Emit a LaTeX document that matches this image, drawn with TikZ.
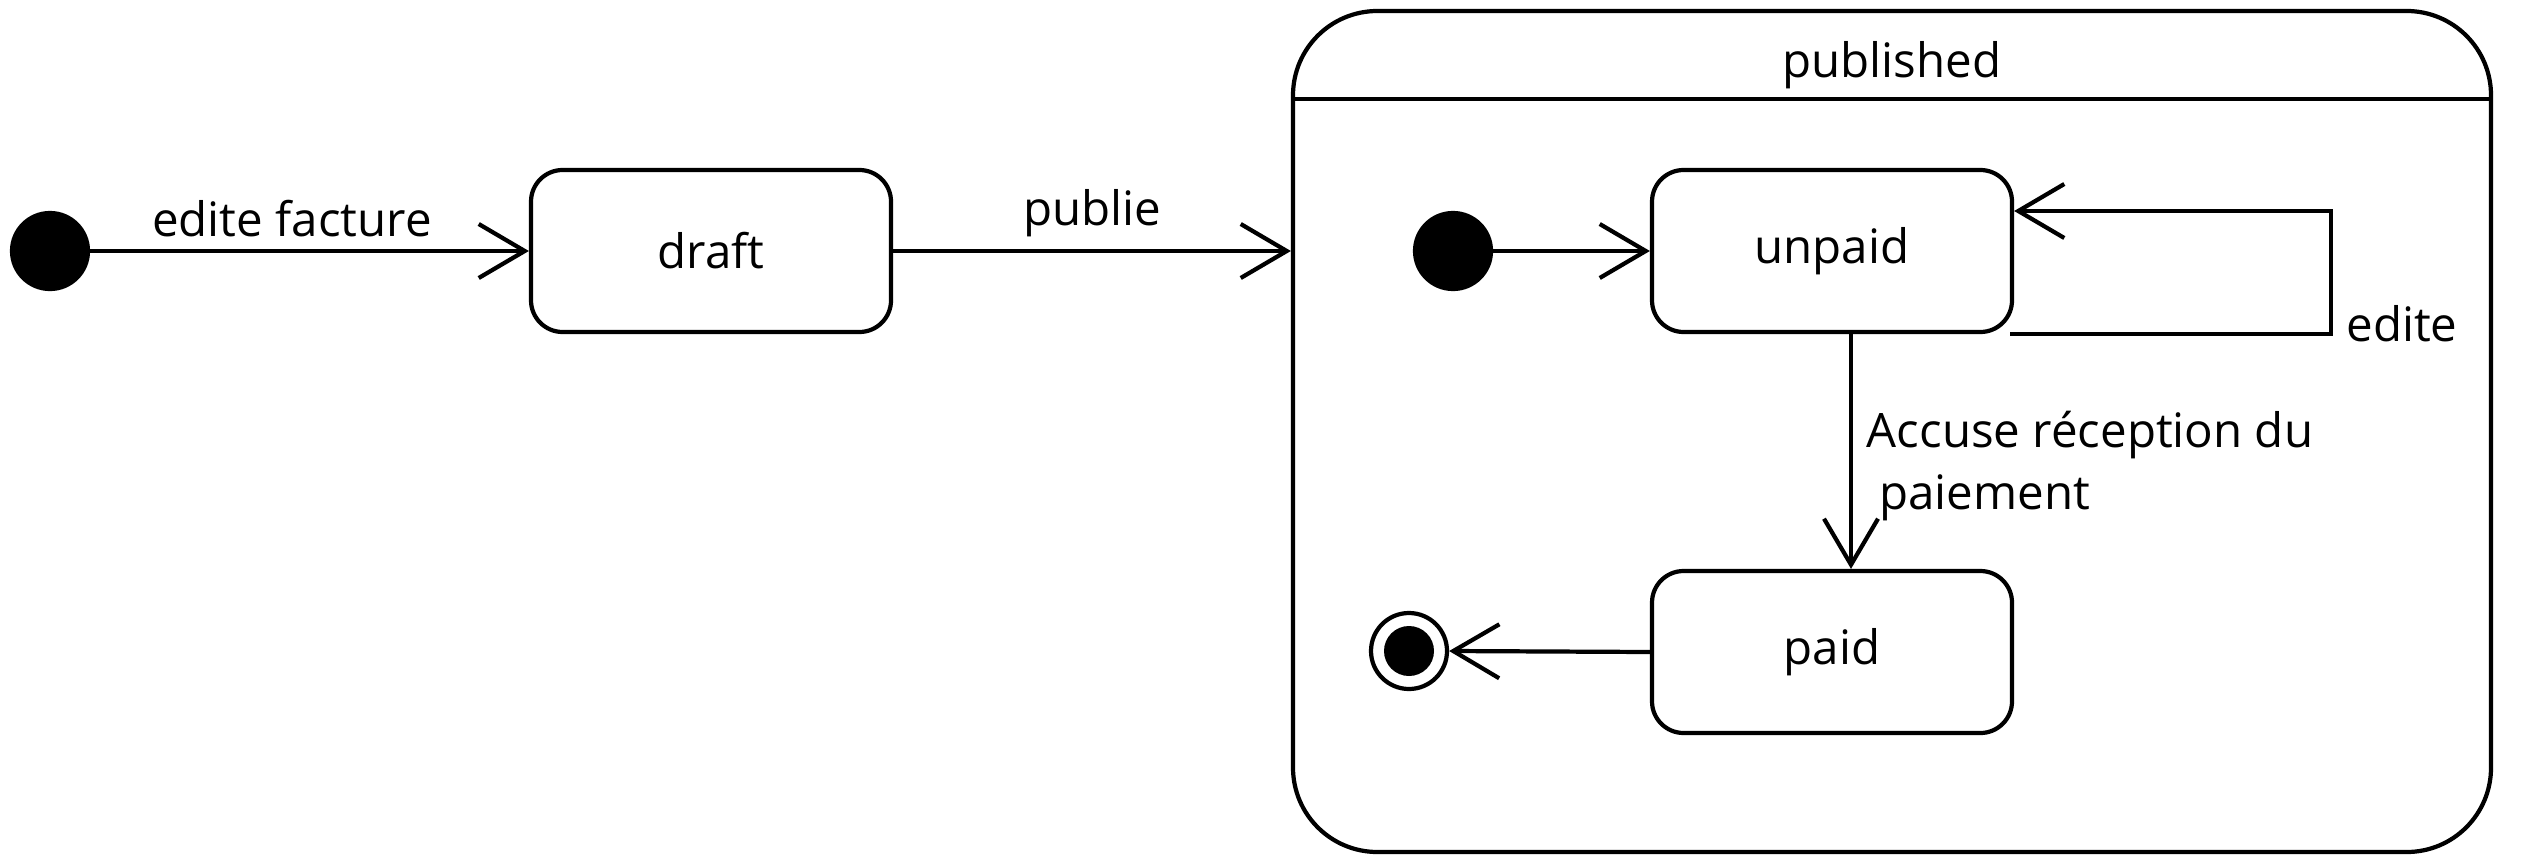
\documentclass[tikz,border=0pt]{standalone}
\usepackage{fontspec}
\setmainfont{Open Sans}
\usepackage{tikz}
\usetikzlibrary{arrows.meta,positioning,calc}

\begin{document}
\begin{tikzpicture}[
  st/.style={draw, rounded corners=9pt, minimum width=3.6cm, minimum height=1.62cm, font=\fontsize{13.5}{16.5}\selectfont},
  comp/.style={draw, rounded corners=24pt, minimum width=11.98cm, minimum height=8.41cm},
  init/.style={circle, fill=black, draw, minimum size=0.76cm, inner sep=0pt},
  finring/.style={circle, draw, minimum size=0.76cm, inner sep=0pt},
  findot/.style={circle, fill=black, minimum size=0.5cm, inner sep=0pt},
  lbl/.style={font=\fontsize{13.5}{17.5}\selectfont, align=left},
  >={Straight Barb[length=4.6mm, width=5.4mm]}, line width=1.2pt, x=1cm, y=1cm]
\useasboundingbox (0,0) rectangle (25.4,-8.6);
% outer level
\node[init] (i0) at (0.50,-2.51) {};
\node[st] (draft) at (7.11,-2.51) {draft};
\node[comp] (pub) at (18.92,-4.315) {};
\node[lbl] (pubname) at ([yshift=-0.56cm]pub.north) {published};
\coordinate (sep) at (0,-0.99);
\draw (pub.west |- sep) -- ([xshift=-0.04cm]pub.east |- sep);
% inside published
\node[init] (i1) at (14.53,-2.51) {};
\node[st] (unpaid) at (18.32,-2.51) {unpaid};
\node[st] (paid) at (18.32,-6.52) {paid};
\node[finring] (fin) at (14.09,-6.51) {};
\node[findot] (findot) at (fin) {};
% edges
\draw[->] (i0) -- (draft.west) node[lbl, above, pos=0.46] {edite facture};
\draw[->] (draft.east) -- (pub.west |- draft) node[lbl, above, midway] {publie};
\draw[->] (i1) -- (unpaid.west);
\coordinate (loop) at (23.31,-2.11);
\draw[->] ([xshift=-0.04cm]unpaid.south east) -| (loop) -- (unpaid.east |- loop);
\node[lbl] (edite) at (24.02,-3.24) {edite};
\draw[->] ([xshift=0.19cm]unpaid.south) -- ([xshift=0.19cm]paid.north);
\node[lbl, anchor=west] (acc) at (18.53,-4.66) {Accuse réception du\\~paiement};
\draw[->] (paid.west) -- (fin.east);
\end{tikzpicture}
\end{document}
